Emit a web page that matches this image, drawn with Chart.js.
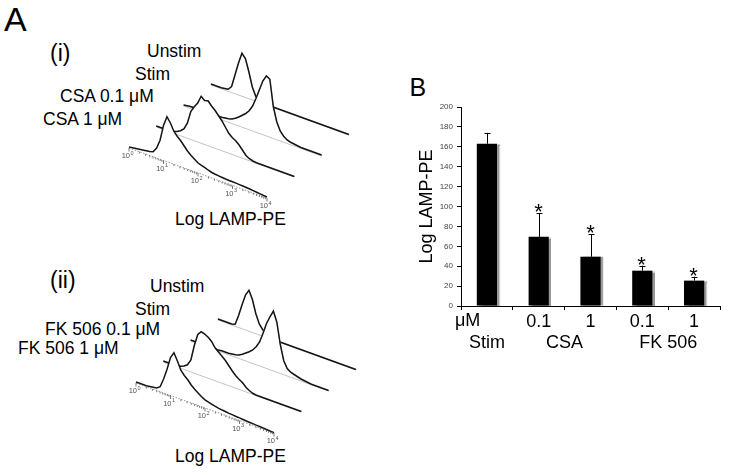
<!DOCTYPE html>
<html>
<head>
<meta charset="utf-8">
<script src="https://cdn.jsdelivr.net/npm/chart.js@4.4.0/dist/chart.umd.min.js"></script>
<style>
  body { margin: 0; background: #fff; width: 729px; height: 475px; position: relative; overflow: hidden;
         font-family: "Liberation Sans", Arial, sans-serif; color: #000; }
  .t { position: absolute; white-space: nowrap; line-height: 1; font-size: 17.5px; }
  canvas { position: absolute; }
</style>
</head>
<body>

<div class="t" style="left:4px;top:2px;font-size:34px">A</div>
<div class="t" style="left:50px;top:42px;font-size:23px">(i)</div>
<div class="t" style="left:147px;top:42.5px">Unstim</div>
<div class="t" style="left:135px;top:66px">Stim</div>
<div class="t" style="left:60px;top:87.5px">CSA 0.1 μM</div>
<div class="t" style="left:43px;top:111px">CSA 1 μM</div>
<div class="t" style="left:175px;top:211px">Log LAMP-PE</div>

<div class="t" style="left:50px;top:269px;font-size:23px">(ii)</div>
<div class="t" style="left:150px;top:277.5px">Unstim</div>
<div class="t" style="left:135px;top:301px">Stim</div>
<div class="t" style="left:45px;top:321px">FK 506 0.1 μM</div>
<div class="t" style="left:18px;top:339.5px">FK 506 1 μM</div>
<div class="t" style="left:175px;top:447.5px">Log LAMP-PE</div>

<div class="t" style="left:409.5px;top:75px;font-size:25px">B</div>

<canvas id="histA" width="270" height="175" style="left:100px;top:40px"></canvas>
<canvas id="histB" width="270" height="175" style="left:107px;top:275px"></canvas>
<canvas id="bars" width="339" height="300" style="left:390px;top:60px"></canvas>

<script>
// log10 fluorescence bins (decades 10^0 .. 10^4)
const logBins = [0,0.1,0.2,0.3,0.4,0.5,0.6,0.7,0.8,0.9,1,1.1,1.2,1.3,1.4,1.5,1.6,1.7,1.8,1.9,2,
  2.1,2.2,2.3,2.4,2.5,2.6,2.7,2.8,2.9,3,3.1,3.2,3.3,3.4,3.5,3.6,3.7,3.8,3.9,4];
const decadeTicks = [0, 1, 2, 3, 4];

// relative event counts, panel (i)
const csaUnstim = [1,1,1,1,1.5,2,6,19,32,43,39,27,13,5,2,1,0.5,0.5,0.5,0.5,0.5,
  0.5,0.5,0.5,0.5,0.5,0.5,0.5,0.5,0.5,0.5,0.5,0.5,0.5,0.5,0.5,0.5,0.5,0.5,0.5,0.5];
const csaStim = [1,1.5,2,2,2,2.5,2.5,2.5,2.5,2.5,2.5,2.5,3,3.5,4.5,6.5,9,12,15,19,25,
  34,44,54,60,58,32,18,10,6,3.5,2.5,2,1.5,1,1,1,1,1,1,1];
const csa01 = [1,1,1,1.5,1.5,2,3,5,8,15,28,34,39,47,44,45,41,38,34,30,25,
  20,17,15,12,8,4,2,1,0.5,0.5,0.5,0.5,0.5,0.5,0.5,0.5,0.5,0.5,0.5,0.5];
const csa1 = [1,1.5,2,2.5,3,3.5,4,5,10,19,35,45,40,33,29,26,22,18,15,12.5,10,
  8.8,7.8,6.5,5.5,5,4.6,4.3,4,3.8,3.7,3.6,3.4,3.2,3,2.7,2.4,2,1.6,1.2,1];

// relative event counts, panel (ii)
const fkUnstim = [1,1,1,1,1,2,12,24,35,41,33,20,11,6.5,3.5,2,1,0.5,0.5,0.5,0.5,
  0.5,0.5,0.5,0.5,0.5,0.5,0.5,0.5,0.5,0.5,0.5,0.5,0.5,0.5,0.5,0.5,0.5,0.5,0.5,0.5];
const fkStim = [1,1,1,1,1,1,1,1,1,1.5,1.5,1.5,2,2.5,3.5,5.5,8,10.5,13.5,18,24,
  34,45,53,60,50,29,14,7.5,5,4,3,2,1.5,1,0.5,0.5,0.5,0.5,0.5,0.5];
const fk01 = [1,1,1,1,1.5,2,3.5,6,12,28,40,44,43,41,38,33,30,27,24,20,16,
  12.5,10,8,4.5,2.5,1,0.5,0.5,0.5,0.5,0.5,0.5,0.5,0.5,0.5,0.5,0.5,0.5,0.5,0.5];
const fk1 = [1,1,1,1,1.5,2,2.5,5,14,25,38,44,37,29,25,22,18,15,12.5,10,8.2,
  7.2,6.2,5.3,4.7,4.2,3.8,3.4,3.1,2.8,2.6,2.3,2,1.8,1.6,1.4,1.2,1,0.8,0.5,0.3];

// panel B
const barLabels = ['Stim', 'CSA 0.1', 'CSA 1', 'FK 506 0.1', 'FK 506 1'];
const doseTicks = ['', '0.1', '1', '0.1', '1'];
const lampMeans = [163, 69.5, 49.5, 35.5, 25.5];
const lampErrors = [11, 23.5, 22.5, 5, 4];
const significant = [false, true, true, true, true];
const drugGroups = [
  {label: 'Stim', from: 0, to: 0},
  {label: 'CSA', from: 1, to: 2},
  {label: 'FK 506', from: 3, to: 4}
];

const FONT = '"Liberation Sans", Arial, sans-serif';

// offset ("waterfall") layout of the histograms, in canvas pixels
const ORIGIN = {x: 29, y: 108};
const DECADE = {x: 34.5, y: 12.5};
const LAYER = {x: 27.3, y: -21};

function px(t, k) { return ORIGIN.x + t * DECADE.x + k * LAYER.x; }
function py(t, k, h) { return ORIGIN.y + t * DECADE.y + k * LAYER.y - h; }

const logAxis = {
  id: 'logAxis',
  afterDatasetsDraw(chart) {
    const {ctx, scales: {x, y}} = chart;
    const P = (t, dy) => [x.getPixelForValue(px(t, 0)), y.getPixelForValue(py(t, 0, 0) + (dy || 0))];
    ctx.save();
    ctx.strokeStyle = '#777';
    ctx.lineWidth = 0.8;
    ctx.setLineDash([1.5, 1.5]);
    ctx.beginPath();
    let a = P(0), b = P(4);
    ctx.moveTo(a[0], a[1]); ctx.lineTo(b[0], b[1]);
    ctx.stroke();
    ctx.setLineDash([]);
    ctx.strokeStyle = '#555';
    ctx.beginPath();
    for (let d = 0; d < 4; d++) {
      for (let m = 2; m <= 9; m++) {
        const t = d + Math.log10(m);
        const p = P(t), q = P(t, 1.8);
        ctx.moveTo(p[0], p[1]); ctx.lineTo(q[0], q[1]);
      }
    }
    decadeTicks.forEach(t => {
      const p = P(t), q = P(t, 3.5);
      ctx.moveTo(p[0], p[1]); ctx.lineTo(q[0], q[1]);
    });
    ctx.stroke();
    ctx.fillStyle = '#555';
    ctx.textBaseline = 'middle';
    decadeTicks.forEach(t => {
      const p = P(t, 8);
      ctx.font = '7.5px ' + FONT;
      ctx.textAlign = 'right';
      ctx.fillText('10', p[0] + 1, p[1]);
      ctx.font = '5.5px ' + FONT;
      ctx.textAlign = 'left';
      ctx.fillText(String(t), p[0] + 1.5, p[1] - 3);
    });
    ctx.restore();
  }
};

function histChart(id, samples) {
  const datasets = [];
  samples.forEach((counts, k) => {
    const curve = logBins.map((t, i) => ({x: px(t, k), y: py(t, k, counts[i])}));
    const shape = curve.concat([{x: px(4, k), y: py(4, k, 0)}, {x: px(0, k), y: py(0, k, 0)}]);
    datasets.push({
      data: curve, borderColor: '#151515', borderWidth: 1.5, pointRadius: 0,
      fill: false, tension: 0, order: 2 * k
    });
    datasets.push({
      data: shape, borderColor: k === 0 ? 'rgba(0,0,0,0)' : '#c4c4c4', borderWidth: 1,
      backgroundColor: '#fff', fill: 'shape', pointRadius: 0, tension: 0, order: 2 * k + 1
    });
  });
  return new Chart(document.getElementById(id), {
    type: 'line',
    data: {datasets},
    options: {
      responsive: false, animation: false,
      layout: {padding: 0},
      plugins: {legend: {display: false}, tooltip: {enabled: false}},
      scales: {
        x: {type: 'linear', display: false, min: 0, max: 270},
        y: {type: 'linear', display: false, min: 0, max: 175, reverse: true}
      }
    },
    plugins: [logAxis]
  });
}

histChart('histA', [csa1, csa01, csaStim, csaUnstim]);
histChart('histB', [fk1, fk01, fkStim, fkUnstim]);

const barShadow = {
  id: 'barShadow',
  beforeDatasetDraw(chart) {
    const ctx = chart.ctx;
    ctx.save();
    ctx.shadowColor = 'rgba(0,0,0,0.4)';
    ctx.shadowOffsetX = 2.5;
    ctx.shadowOffsetY = 0;
    ctx.shadowBlur = 1;
  },
  afterDatasetDraw(chart) { chart.ctx.restore(); }
};

const errorBars = {
  id: 'errorBars',
  afterDatasetsDraw(chart) {
    const {ctx, scales: {x, y}} = chart;
    const meta = chart.getDatasetMeta(0);
    ctx.save();
    ctx.strokeStyle = '#000';
    ctx.lineWidth = 1;
    ctx.fillStyle = '#000';
    ctx.font = '22px ' + FONT;
    ctx.textAlign = 'center';
    ctx.textBaseline = 'alphabetic';
    meta.data.forEach((bar, i) => {
      const cx = Math.round(bar.x) + 0.5;
      const top = y.getPixelForValue(lampMeans[i] + lampErrors[i]);
      const base = y.getPixelForValue(lampMeans[i]);
      ctx.beginPath();
      ctx.moveTo(cx, base); ctx.lineTo(cx, top);
      ctx.moveTo(cx - 3, Math.round(top) + 0.5); ctx.lineTo(cx + 3, Math.round(top) + 0.5);
      ctx.stroke();
      if (significant[i]) ctx.fillText('*', cx - 1, top + 6);
    });
    // dose unit and drug group labels under the axis
    ctx.font = '18px ' + FONT;
    ctx.textBaseline = 'middle';
    ctx.textAlign = 'left';
    ctx.fillText('μM', x.left - 6, 261);
    ctx.textAlign = 'center';
    drugGroups.forEach(g => {
      const gx = (x.getPixelForValue(g.from) + x.getPixelForValue(g.to)) / 2;
      ctx.fillText(g.label, gx, 283.5);
    });
    ctx.restore();
  }
};

new Chart(document.getElementById('bars'), {
  type: 'bar',
  data: {
    labels: barLabels,
    datasets: [{
      data: lampMeans, backgroundColor: '#000', borderWidth: 0,
      barPercentage: 0.39, categoryPercentage: 1
    }]
  },
  options: {
    responsive: false, animation: false,
    layout: {padding: {top: 47, right: 9, left: 0, bottom: 0}},
    plugins: {legend: {display: false}, tooltip: {enabled: false}},
    scales: {
      x: {
        grid: {drawOnChartArea: false, tickLength: 4, color: '#000'},
        border: {color: '#000'},
        ticks: {
          font: {family: FONT, size: 18}, color: '#000', padding: 1, maxRotation: 0,
          callback: (v, i) => doseTicks[i]
        },
        afterFit(s) { s.height = 54; }
      },
      y: {
        min: 0, max: 200,
        grid: {drawOnChartArea: false, tickLength: 4, color: '#000'},
        border: {color: '#000'},
        ticks: {stepSize: 20, font: {family: FONT, size: 8}, color: '#444', padding: 4},
        title: {
          display: true, text: 'Log LAMP-PE', color: '#000',
          font: {family: FONT, size: 18}, padding: {top: 26, bottom: 0}
        },
        afterFit(s) { s.width = 71; }
      }
    }
  },
  plugins: [barShadow, errorBars]
});
</script>
</body>
</html>
